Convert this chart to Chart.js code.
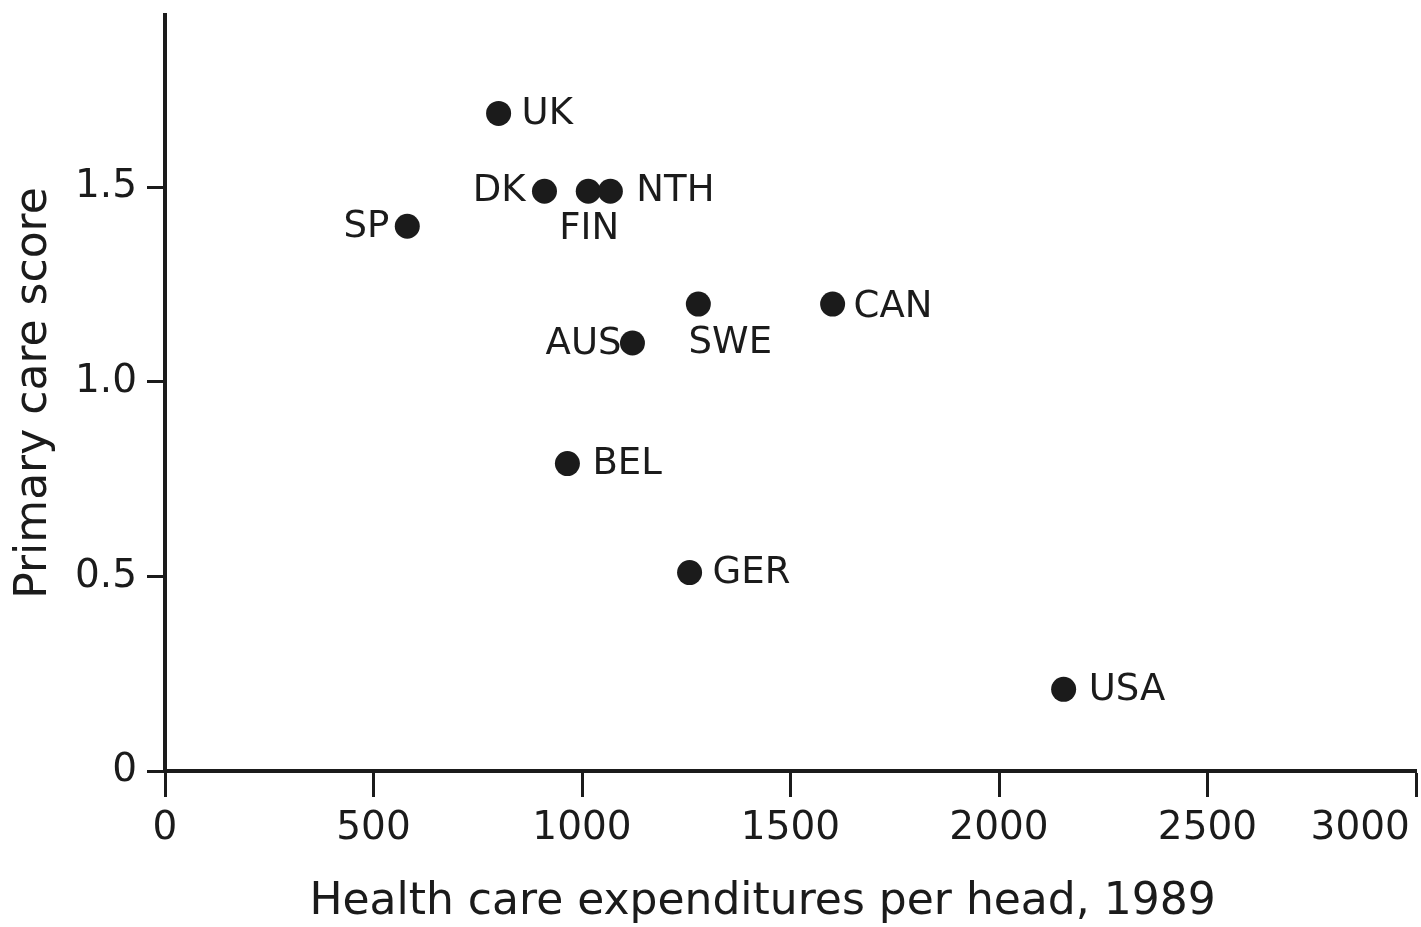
<!DOCTYPE html>
<html>
<head>
<meta charset="utf-8">
<script src="https://cdn.jsdelivr.net/npm/chart.js@4.4.1/dist/chart.umd.min.js"></script>
<style>
  html, body { margin: 0; padding: 0; background: #ffffff; }
  #grafico { display: block; }
</style>
</head>
<body>
<canvas id="grafico" width="1421" height="927"></canvas>
<script>
// Datos
const paises = ['UK', 'DK', 'FIN', 'NTH', 'SP', 'SWE', 'CAN', 'AUS', 'BEL', 'GER', 'USA'];
const gastoPorPersona = [800, 910, 1015, 1068, 581, 1279, 1601, 1121, 965, 1258, 2155];
const puntajeAtencion = [1.69, 1.49, 1.49, 1.49, 1.40, 1.20, 1.20, 1.10, 0.79, 0.51, 0.21];
const ticksY = [0, 0.5, 1.0, 1.5];
const ticksX = [0, 500, 1000, 1500, 2000, 2500, 3000];

const tinta = '#1b1b1b';
const fuente = "'DejaVu Sans', sans-serif";

// dónde va cada etiqueta respecto a su punto
const posEtiquetas = {
  UK:  { align: 'left',   dx: 23,  dy: 1 },
  DK:  { align: 'right',  dx: -19, dy: 0 },
  FIN: { align: 'center', dx: 1,   dy: 38 },
  NTH: { align: 'left',   dx: 26,  dy: 0 },
  SP:  { align: 'right',  dx: -18, dy: 1 },
  SWE: { align: 'center', dx: 32,  dy: 39 },
  CAN: { align: 'left',   dx: 21,  dy: 3 },
  AUS: { align: 'right',  dx: -11, dy: 1 },
  BEL: { align: 'left',   dx: 25,  dy: 1 },
  GER: { align: 'left',   dx: 23,  dy: 1 },
  USA: { align: 'left',   dx: 25,  dy: 1 },
};

// Plugin que escribe el nombre del país junto a cada punto
const etiquetasPaises = {
  id: 'etiquetasPaises',
  afterDatasetsDraw(chart) {
    const { ctx } = chart;
    const meta = chart.getDatasetMeta(0);
    ctx.save();
    ctx.font = `37px ${fuente}`;
    ctx.fillStyle = tinta;
    ctx.textBaseline = 'middle';
    meta.data.forEach((pt, i) => {
      const p = posEtiquetas[paises[i]];
      ctx.textAlign = p.align;
      ctx.fillText(paises[i], pt.x + p.dx, pt.y + p.dy);
    });
    ctx.restore();
  }
};

const crearGrafico = () => {
  const data = {
    datasets: [{
      label: 'Países',
      data: gastoPorPersona.map((g, i) => ({ x: g, y: puntajeAtencion[i] })),
      backgroundColor: tinta,
      borderColor: tinta,
      pointRadius: 12.5,
      pointHoverRadius: 12.5,
      borderWidth: 0,
    }]
  };

  const config = {
    type: 'scatter',
    data: data,
    options: {
      responsive: false,
      animation: false,
      devicePixelRatio: 1,
      layout: { autoPadding: false, padding: { top: 15, right: 5, bottom: 0, left: 0 } },
      plugins: {
        legend: { display: false },
        tooltip: { enabled: false },
      },
      scales: {
        x: {
          type: 'linear',
          min: 0,
          max: 3000,
          afterBuildTicks: (scale) => { scale.ticks = ticksX.map(v => ({ value: v })); },
          afterFit: (scale) => {
            scale.height = 927 - 771;
            scale.paddingLeft = 0;
            scale.paddingRight = 0;
          },
          border: { display: true, color: tinta, width: 4 },
          grid: { display: true, drawOnChartArea: false, drawTicks: true, tickLength: 26, tickWidth: 3, tickColor: tinta },
          ticks: {
            autoSkip: false,
            maxRotation: 0,
            color: tinta,
            padding: 8,
            font: { family: fuente, size: 39 },
            // el 3000 va corrido a la izquierda como en el original
            callback: (v) => v === 3000 ? '3000         ' : String(v),
          },
          title: {
            display: true,
            // espacios al final: el título original no está centrado en el eje
            text: 'Health care expenditures per head, 1989    ',
            color: tinta,
            font: { family: fuente, size: 44, lineHeight: 1 },
            padding: { top: 0, bottom: 2 },
          },
        },
        y: {
          type: 'linear',
          min: 0,
          max: 1.943,
          afterBuildTicks: (scale) => { scale.ticks = ticksY.map(v => ({ value: v })); },
          afterFit: (scale) => {
            scale.width = 165;
            scale.paddingTop = 0;
            scale.paddingBottom = 0;
          },
          border: { display: true, color: tinta, width: 4 },
          grid: { display: true, drawOnChartArea: false, drawTicks: true, tickLength: 18, tickWidth: 3, tickColor: tinta },
          ticks: {
            color: tinta,
            padding: 10,
            font: { family: fuente, size: 39 },
            callback: (v) => v === 0 ? '0' : v.toFixed(1),
          },
          title: {
            display: true,
            text: 'Primary care score',
            color: tinta,
            font: { family: fuente, size: 44, lineHeight: 1 },
            padding: { top: 13, bottom: 0 },
          },
        },
      },
    },
    plugins: [etiquetasPaises],
  };

  const ctx = document.querySelector('#grafico').getContext('2d');
  new Chart(ctx, config);
};

crearGrafico();
</script>
</body>
</html>
